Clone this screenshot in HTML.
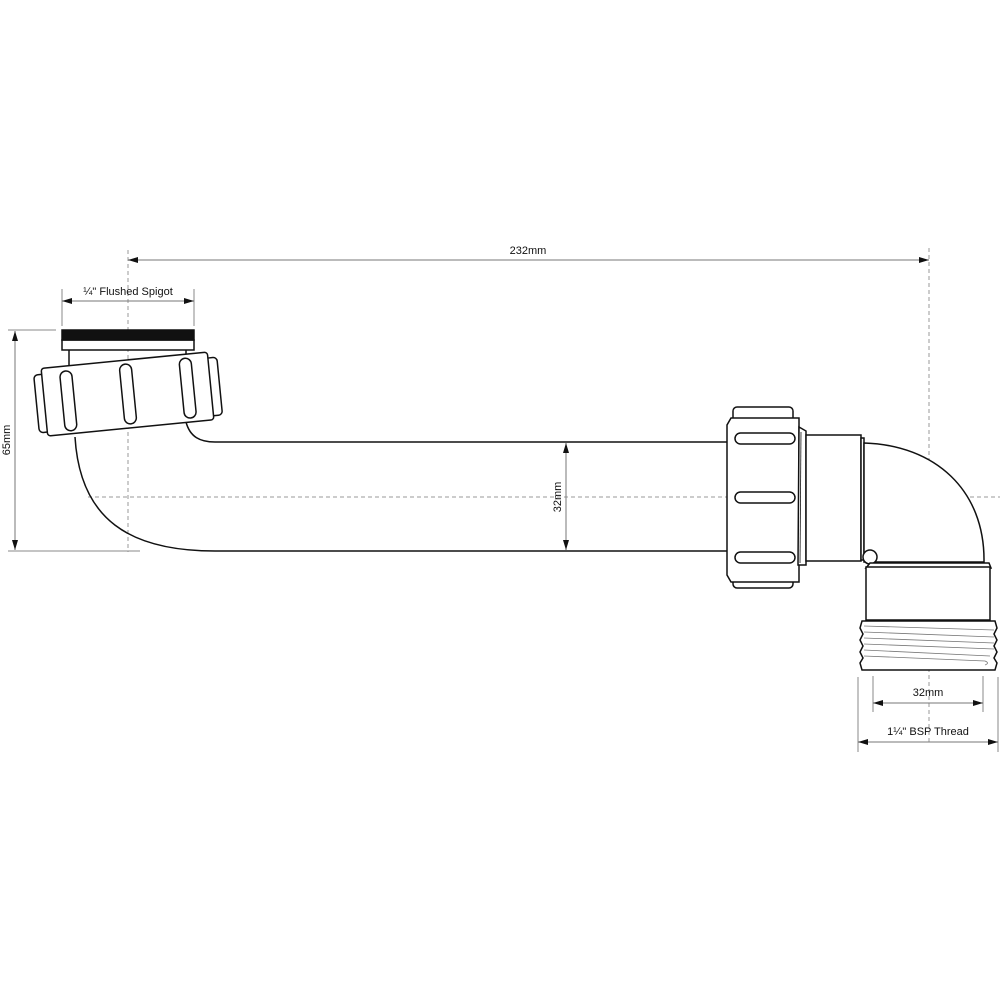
<!DOCTYPE html>
<html><head><meta charset="utf-8"><style>
html,body{margin:0;padding:0;background:#fff;}
svg{display:block;}
text{font-family:"Liberation Sans",Arial,sans-serif;font-size:11px;fill:#111;}
</style></head><body>
<svg width="1000" height="1000" viewBox="0 0 1000 1000" xmlns="http://www.w3.org/2000/svg">
<defs>
<marker id="a" viewBox="0 0 10 6" refX="10" refY="3" markerWidth="10" markerHeight="6" orient="auto-start-reverse" markerUnits="userSpaceOnUse"><path d="M0,0 L10,3 L0,6z" fill="#111"/></marker>
</defs>
<!-- center / extension lines -->
<g stroke="#999" stroke-width="1" stroke-dasharray="4,3" fill="none">
<line x1="128" y1="250" x2="128" y2="552"/>
<line x1="929" y1="248" x2="929" y2="742"/>
<line x1="88" y1="497" x2="1000" y2="497"/>
</g>
<g stroke="#888" stroke-width="1" fill="none">
<line x1="62" y1="289" x2="62" y2="326"/>
<line x1="194" y1="289" x2="194" y2="326"/>
<line x1="8" y1="330" x2="56" y2="330"/>
<line x1="8" y1="551" x2="140" y2="551"/>
<line x1="873" y1="676" x2="873" y2="712"/>
<line x1="983" y1="676" x2="983" y2="712"/>
<line x1="858" y1="677" x2="858" y2="752"/>
<line x1="998" y1="677" x2="998" y2="752"/>
</g>
<g stroke="#777" stroke-width="1" fill="none" marker-start="url(#a)" marker-end="url(#a)">
<line x1="128" y1="260" x2="929" y2="260"/>
<line x1="62" y1="301" x2="194" y2="301"/>
<line x1="15" y1="331" x2="15" y2="550"/>
<line x1="566" y1="443" x2="566" y2="550"/>
<line x1="873" y1="703" x2="983" y2="703"/>
<line x1="858" y1="742" x2="998" y2="742"/>
</g>
<text x="528" y="254" text-anchor="middle">232mm</text>
<text x="128" y="295" text-anchor="middle">¼" Flushed Spigot</text>
<text x="928" y="696" text-anchor="middle">32mm</text>
<text x="928" y="735" text-anchor="middle">1¼" BSP Thread</text>
<text transform="translate(10,440) rotate(-90)" text-anchor="middle">65mm</text>
<text transform="translate(561,497) rotate(-90)" text-anchor="middle">32mm</text>

<g stroke="#111" stroke-width="1.5" fill="#fff">
<!-- pipe -->
<path d="M75,437 C80,520 130,551 215,551 L730,551" fill="none"/>
<path d="M186,422 C190,437 200,442 215,442 L730,442" fill="none"/>
<!-- spigot -->
<line x1="69" y1="350" x2="69" y2="366"/>
<line x1="186" y1="350" x2="186" y2="356"/>
<rect x="62" y="340" width="132" height="10"/>
<rect x="62" y="330" width="132" height="10" fill="#111"/>
<!-- left nut -->
<g transform="rotate(-5.6 128 394)">
<rect x="36" y="366" width="12" height="58" rx="4"/>
<rect x="208" y="366" width="12" height="58" rx="4"/>
<rect x="44" y="360" width="167" height="68" rx="3"/>
<rect x="62" y="365" width="12" height="60" rx="6"/>
<rect x="122" y="364" width="12" height="60" rx="6"/>
<rect x="182" y="364" width="12" height="60" rx="6"/>
</g>
<!-- right nut -->
<rect x="733" y="407" width="60" height="181" rx="4"/>
<path d="M731,418 L799,418 L799,582 L731,582 L727,575 L727,425 Z"/>
<rect x="735" y="433" width="60" height="11" rx="5.5"/>
<rect x="735" y="492" width="60" height="11" rx="5.5"/>
<rect x="735" y="552" width="60" height="11" rx="5.5"/>
<path d="M799,427 L806,431 L806,565 L798,565 Z"/>
<line x1="801" y1="432" x2="800" y2="563" stroke-width="0.8"/>
<rect x="806" y="435" width="55" height="126"/>
<rect x="861" y="438" width="3" height="122"/>
<!-- elbow -->
<path d="M864,443 C935,445 985,490 984,562 L864,562 Z"/>
<circle cx="870" cy="557" r="7"/>
<path d="M870,563 L989,563 L991,568 L866,568 Z"/>
<rect x="866" y="567" width="124" height="53"/>
<path d="M862,621 L995,621 L997,628 L994,634 L997,640 L994,646 L997,652 L994,658 L997,663 L995,670 L862,670 L860,663 L863,658 L860,652 L863,646 L860,640 L863,634 L860,628 Z"/>
</g>
<g stroke="#777" stroke-width="0.8" fill="none">
<line x1="864" y1="626" x2="994" y2="630"/>
<line x1="864" y1="632" x2="994" y2="637"/>
<line x1="864" y1="638" x2="994" y2="643"/>
<line x1="864" y1="644" x2="994" y2="649"/>
<line x1="864" y1="650" x2="990" y2="656"/>
<path d="M864,656 L985,661 Q990,663 985,665"/>
</g>
</svg>
</body></html>
